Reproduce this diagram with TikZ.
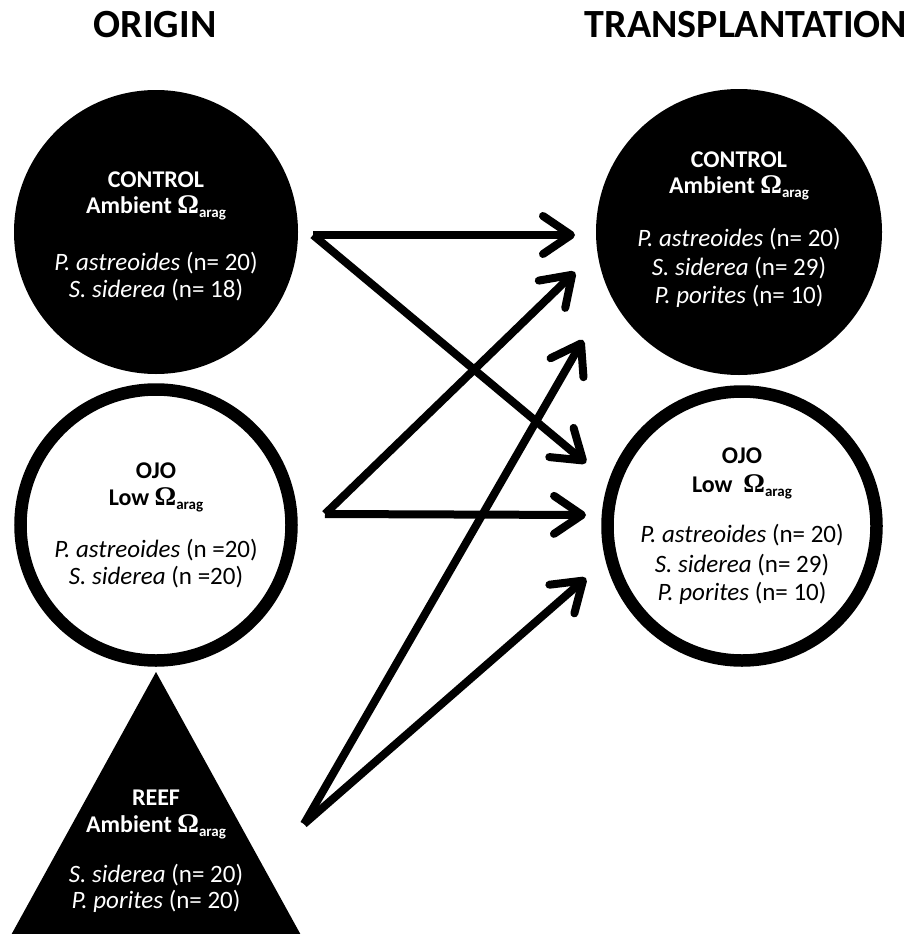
\documentclass[tikz,border=0pt]{standalone}
\usepackage{fontspec}
\setmainfont{Carlito}
\newfontfamily\omfont{Liberation Serif}
\usetikzlibrary{arrows.meta}
\newcommand{\omarag}{{\omfont\fontsize{27}{27}\selectfont\bfseries Ω}\raisebox{-4pt}{\fontsize{15}{15}\selectfont\bfseries arag}}
\tikzset{
  every node/.style={inner sep=0pt, outer sep=0pt},
  titletext/.style={font=\fontsize{40}{40}\selectfont\bfseries, anchor=base},
  hdr/.style={font=\fontsize{24}{24}\selectfont\bfseries, anchor=base},
  sp/.style={font=\fontsize{25}{25}\selectfont, anchor=base},
  filledcirc/.style={circle, fill=black, draw=none},
  ringcirc/.style={circle, draw=black, line width=12.5pt, fill=white},
  flow/.style={line width=8pt, -{Straight Barb[length=28pt,width=38pt,round]}}
}
\begin{document}
\begin{tikzpicture}[x=1pt,y=-1pt]
\useasboundingbox (0,0) rectangle (912,934);
\fill[white] (0,0) rectangle (912,934);

% titles
\node[titletext] (t1) at (155,38) {ORIGIN};
\node[titletext] (t2) at (746,38) {TRANSPLANTATION};

% origin control
\node[filledcirc, minimum size=284pt] (lc) at (156,232) {};
\node[hdr, text=white] (lc1) at (156,187) {CONTROL};
\node[hdr, text=white] (lc2) at (156,213) {Ambient \omarag};
\node[sp, text=white] (lc3) at (156,270) {\textit{P. astreoides} (n= 20)};
\node[sp, text=white] (lc4) at (156,297) {\textit{S. siderea} (n= 18)};

% origin ojo
\node[ringcirc, minimum size=271pt] (lo) at (156,525) {};
\node[hdr] (lo1) at (156,478) {OJO};
\node[hdr] (lo2) at (156,505) {Low \omarag};
\node[sp] (lo3) at (156,557) {\textit{P. astreoides} (n =20)};
\node[sp] (lo4) at (156,584) {\textit{S. siderea} (n =20)};

% reef triangle
\coordinate (ra) at (156,672);
\coordinate (rb) at (10,937);
\coordinate (rc) at (302,937);
\fill[black] (ra) -- (rb) -- (rc) -- cycle;
\node[hdr, text=white] (r1) at (156,805) {REEF};
\node[hdr, text=white] (r2) at (156,832) {Ambient \omarag};
\node[sp, text=white] (r3) at (156,882) {\textit{S. siderea} (n= 20)};
\node[sp, text=white] (r4) at (156,908) {\textit{P. porites} (n= 20)};

% transplantation control
\node[filledcirc, minimum size=286pt] (rcn) at (739,232) {};
\node[hdr, text=white] (rc1) at (739,167) {CONTROL};
\node[hdr, text=white] (rc2) at (739,193) {Ambient \omarag};
\node[sp, text=white] (rc3) at (739,246) {\textit{P. astreoides} (n= 20)};
\node[sp, text=white] (rc4) at (739,275) {\textit{S. siderea} (n= 29)};
\node[sp, text=white] (rc5) at (739,303) {\textit{P. porites} (n= 10)};

% transplantation ojo
\node[ringcirc, minimum size=269pt] (ro) at (742,526) {};
\node[hdr] (ro1) at (742,463) {OJO};
\node[hdr] (ro2) at (742,492) {Low\ \ \omarag};
\node[sp] (ro3) at (742,542) {\textit{P. astreoides} (n= 20)};
\node[sp] (ro4) at (742,572) {\textit{S. siderea} (n= 29)};
\node[sp] (ro5) at (742,600) {\textit{P. porites} (n= 10)};

% arrow coordinates
\coordinate (sC) at (313,235);
\coordinate (sO) at (325,514);
\coordinate (sR) at (304,824);
\coordinate (e1) at (575,235);
\coordinate (e2) at (586,463);
\coordinate (e3) at (575,272);
\coordinate (e4) at (586,515);
\coordinate (e5) at (583,340);
\coordinate (e6) at (586,578);

\draw[flow] (sC) -- (e1);
\draw[flow] (sC) -- (e2);
\draw[flow] (sO) -- (e3);
\draw[flow] (sO) -- (e4);
\draw[flow] (sR) -- (e5);
\draw[flow] (sR) -- (e6);
\end{tikzpicture}
\end{document}
